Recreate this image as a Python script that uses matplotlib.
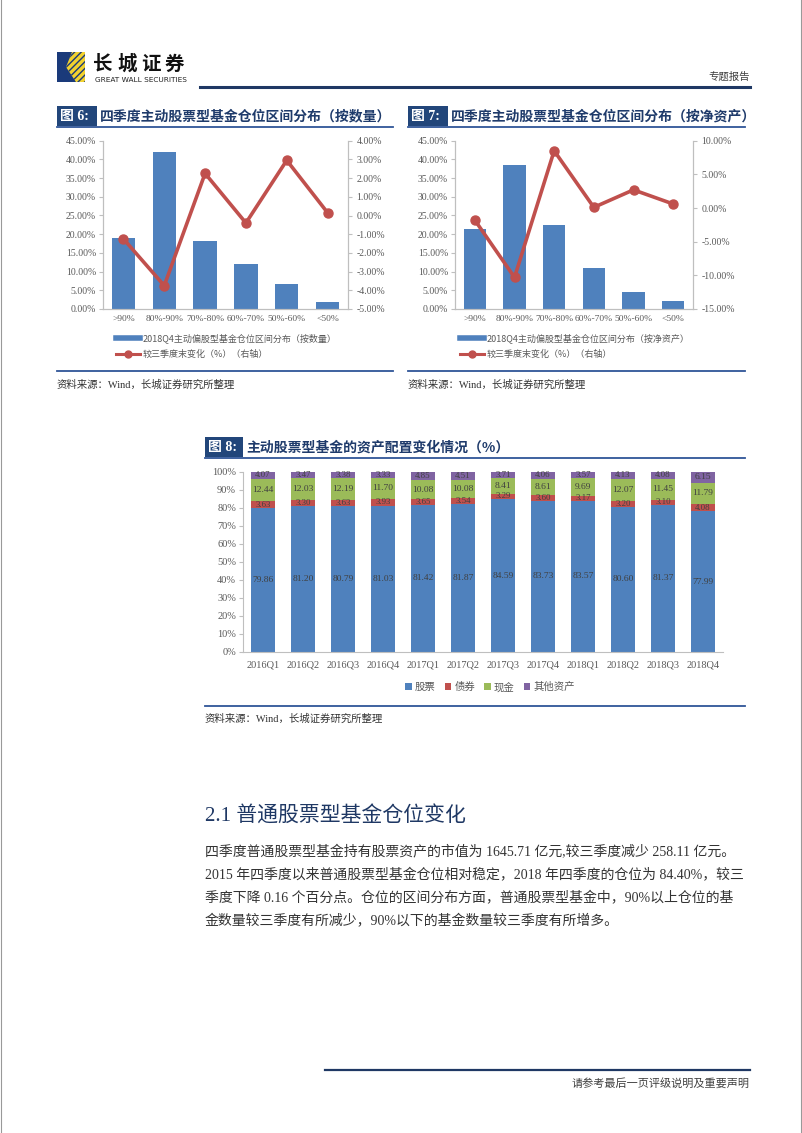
import numpy as np
import matplotlib
matplotlib.use('Agg')
import matplotlib.pyplot as plt
from matplotlib.lines import Line2D
from matplotlib.patches import Rectangle, Polygon

# ---------------- data ----------------
dist_cats = ['>90%', '80%-90%', '70%-80%', '60%-70%', '50%-60%', '<50%']
count_share = [19.0, 42.0, 18.2, 12.0, 6.8, 2.0]          # % (left axis)
count_change = [-1.25, -3.75, 2.25, -0.40, 2.95, 0.15]     # % (right axis)
nav_share = [21.3, 38.4, 22.4, 11.0, 4.6, 2.2]
nav_change = [-1.8, -10.3, 8.5, 0.1, 2.7, 0.6]

quarters = ['2016Q1', '2016Q2', '2016Q3', '2016Q4', '2017Q1', '2017Q2',
            '2017Q3', '2017Q4', '2018Q1', '2018Q2', '2018Q3', '2018Q4']
stocks = [79.86, 81.20, 80.79, 81.03, 81.42, 81.87, 84.59, 83.73, 83.57, 80.60, 81.37, 77.99]
bonds = [3.63, 3.30, 3.63, 3.93, 3.65, 3.54, 3.29, 3.60, 3.17, 3.20, 3.10, 4.08]
cash = [12.44, 12.03, 12.19, 11.70, 10.08, 10.08, 8.41, 8.61, 9.69, 12.07, 11.45, 11.79]
other = [4.07, 3.47, 3.38, 3.33, 4.85, 4.51, 3.71, 4.06, 3.57, 4.13, 4.08, 6.15]
asset_names = ['股票', '债券', '现金', '其他资产']

# ---------------- style ----------------
W, H = 802, 1133
BLUE = '#4F81BD'
RED = '#C0504D'
GREEN = '#9BBB59'
PURPLE = '#8064A2'
NAVY = '#22467A'
NAVY_TXT = '#1F3B6B'
RULE = '#2F5597'
GRID = '#BFBFBF'
TICK = '#595959'
SERIF = ['Liberation Serif', 'Noto Sans CJK SC']
CJK = ['Noto Sans CJK SC', 'DejaVu Sans']

fig = plt.figure(figsize=(W / 100, H / 100), dpi=100)


def fx(x):
    return x / W


def fy(y):
    return 1 - y / H


def add_ax(x0, y0, x1, y1):
    return fig.add_axes([x0 / W, 1 - y1 / H, (x1 - x0) / W, (y1 - y0) / H])


def hline(x0, x1, y, color, lw):
    fig.add_artist(Line2D([fx(x0), fx(x1)], [fy(y), fy(y)], color=color, lw=lw))


def title_bar(x0, x1, y0, y1, num, text, boxw=40):
    fig.add_artist(Rectangle((fx(x0), fy(y1)), boxw / W, (y1 - y0) / H,
                             facecolor=NAVY, edgecolor='none'))
    fig.text(fx(x0 + 3), fy((y0 + y1) / 2 + 0.5), f'图 {num}:', color='white',
             fontsize=10, fontweight='bold', family=SERIF, va='center', ha='left')
    fig.text(fx(x0 + boxw + 3), fy((y0 + y1) / 2 + 0.5), text, color=NAVY_TXT,
             fontsize=10, fontweight='bold', family=CJK, va='center', ha='left')
    hline(x0, x1, y1 + 1, RULE, 1.3)


def source(x0, x1, y_rule):
    hline(x0, x1, y_rule, RULE, 1.3)
    fig.text(fx(x0), fy(y_rule + 13), '资料来源：Wind，长城证券研究所整理',
             family=SERIF, fontsize=7.5, color='#333333', va='center', ha='left')


def style_axis(ax):
    ax.spines['top'].set_visible(False)
    for s in ['left', 'right', 'bottom']:
        ax.spines[s].set_color(GRID)
        ax.spines[s].set_linewidth(0.8)


# ---------------- page header ----------------
fig.add_artist(Line2D([fx(0.5), fx(0.5)], [0, 1], color='#999999', lw=0.8))
fig.add_artist(Line2D([fx(801), fx(801)], [0, 1], color='#999999', lw=0.8))
fig.add_artist(Rectangle((fx(57), fy(82)), 28 / W, 30 / H, facecolor='#1A3A7A', edgecolor='none'))
fig.add_artist(Polygon([(fx(72), fy(52)), (fx(85), fy(52)), (fx(85), fy(82)),
                        (fx(76), fy(82)), (fx(66), fy(67))],
                       facecolor='#F2D22E', edgecolor='#1A3A7A', hatch='/////', lw=0))
for i, ch in enumerate('长城证券'):
    fig.text(fx(93 + i * 24), fy(64), ch, family=CJK, fontsize=14, fontweight='bold',
             color='#111111', va='center', ha='left')
fig.text(fx(95), fy(79.5), 'GREAT WALL SECURITIES', family='DejaVu Sans', fontsize=5.3,
         color='#222222', va='center', ha='left')
fig.text(fx(750), fy(77), '专题报告', family=CJK, fontsize=7.5, color='#404040',
         va='center', ha='right')
hline(200, 750, 86.5, '#1F3864', 2.2)


# ---------------- Fig 6 / Fig 7 ----------------
def dist_chart(x0, x1, shares, changes, rlim, rticks, legend_label, leg_x):
    ax = add_ax(x0, 140.7, x1, 309)
    xs = np.arange(len(dist_cats))
    ax.bar(xs, shares, width=0.57, color=BLUE, zorder=2)
    ax.set_xlim(-0.5, len(dist_cats) - 0.5)
    ax.set_ylim(0, 45)
    lt = np.arange(0, 46, 5)
    ax.set_yticks(lt)
    ax.set_yticklabels([f'{v:.2f}%' for v in lt], family=SERIF)
    ax.set_xticks(xs)
    ax.set_xticklabels(dist_cats, family=SERIF)
    ax.tick_params(axis='y', direction='out', length=3, color=GRID, labelsize=7,
                   labelcolor=TICK, pad=2)
    ax.tick_params(axis='x', length=0, labelsize=6.8, labelcolor=TICK, pad=4)
    style_axis(ax)
    ax.set_facecolor('none')
    ax2 = ax.twinx()
    ax2.plot(xs, changes, color=RED, lw=2.6, marker='o', ms=6.5, zorder=3)
    ax2.set_ylim(*rlim)
    ax2.set_yticks(rticks)
    ax2.set_yticklabels([f'{v:.2f}%' for v in rticks], family=SERIF)
    ax2.tick_params(axis='y', direction='out', length=3, color=GRID, labelsize=7,
                    labelcolor=TICK, pad=3)
    style_axis(ax2)
    handles = [Line2D([], [], color=BLUE, lw=4),
               Line2D([], [], color=RED, lw=2.2, marker='o', ms=5)]
    fig.legend(handles, [legend_label, '较三季度末变化（%）（右轴）'],
               loc='upper left', bbox_to_anchor=(fx(leg_x), fy(333)),
               frameon=False, prop={'family': CJK, 'size': 6.5},
               labelcolor=TICK, handlelength=2.7, handletextpad=0.2,
               labelspacing=0.8, borderaxespad=0, borderpad=0)
    return ax


title_bar(57, 393, 106, 126, 6, '四季度主动股票型基金仓位区间分布（按数量）')
dist_chart(103, 348, count_share, count_change, (-5, 4), np.arange(-5, 4.01, 1),
           '2018Q4主动偏股型基金仓位区间分布（按数量）', 116)
source(57, 393, 371.5)

title_bar(408, 745, 106, 126, 7, '四季度主动股票型基金仓位区间分布（按净资产）')
dist_chart(455, 693, nav_share, nav_change, (-15, 10), np.arange(-15, 10.01, 5),
           '2018Q4主动偏股型基金仓位区间分布（按净资产）', 460)
source(408, 745, 371.5)

# ---------------- Fig 8 ----------------
title_bar(205, 745, 437, 457, 8, '主动股票型基金的资产配置变化情况（%）', boxw=38)
ax8 = add_ax(243, 471.7, 723, 651.7)
xs = np.arange(len(quarters))
series = [stocks, bonds, cash, other]
colors = [BLUE, RED, GREEN, PURPLE]
bottom = np.zeros(len(quarters))
for vals, col, name in zip(series, colors, asset_names):
    vals = np.array(vals)
    ax8.bar(xs, vals, bottom=bottom, width=0.58, color=col, label=name, zorder=2)
    for x, b, v in zip(xs, bottom, vals):
        ax8.text(x, b + v / 2, f'{v:.2f}', ha='center', va='center', family=SERIF,
                 fontsize=6.8 if v > 5 else 6.3, color='#404040', zorder=3)
    bottom = bottom + vals
ax8.set_xlim(-0.5, len(quarters) - 0.5)
ax8.set_ylim(0, 100)
yt = np.arange(0, 101, 10)
ax8.set_yticks(yt)
ax8.set_yticklabels([f'{v}%' for v in yt], family=SERIF)
ax8.set_xticks(xs)
ax8.set_xticklabels(quarters, family=SERIF)
ax8.tick_params(axis='y', direction='out', length=3, color=GRID, labelsize=7.5,
                labelcolor=TICK, pad=2)
ax8.tick_params(axis='x', length=0, labelsize=7.5, labelcolor=TICK, pad=6)
style_axis(ax8)
ax8.spines['right'].set_visible(False)
ax8.legend(loc='upper center', bbox_to_anchor=(fx(490), fy(682)),
           bbox_transform=fig.transFigure, ncol=4, frameon=False,
           prop={'family': CJK, 'size': 7.5}, labelcolor=TICK,
           handlelength=0.6, handleheight=0.6, handletextpad=0.3,
           columnspacing=0.9, borderaxespad=0, borderpad=0)
source(205, 745, 706)

# ---------------- body text ----------------
fig.text(fx(205), fy(817), '2.1 普通股票型基金仓位变化', family=SERIF, fontsize=15,
         color='#1F3864', va='center', ha='left')
body = [
    '四季度普通股票型基金持有股票资产的市值为 1645.71 亿元,较三季度减少 258.11 亿元。',
    '2015 年四季度以来普通股票型基金仓位相对稳定，2018 年四季度的仓位为 84.40%，较三',
    '季度下降 0.16 个百分点。仓位的区间分布方面，普通股票型基金中，90%以上仓位的基',
    '金数量较三季度有所减少，90%以下的基金数量较三季度有所增多。',
]
for i, line in enumerate(body):
    fig.text(fx(205), fy(852 + i * 23), line, family=SERIF, fontsize=10.0,
             color='#333333', va='center', ha='left')

# ---------------- footer ----------------
hline(325, 750, 1070, '#1F3864', 1.6)
fig.text(fx(750), fy(1083), '请参考最后一页评级说明及重要声明', family=CJK, fontsize=8,
         color='#404040', va='center', ha='right')

fig.savefig('out.png', dpi=100, facecolor='white')
